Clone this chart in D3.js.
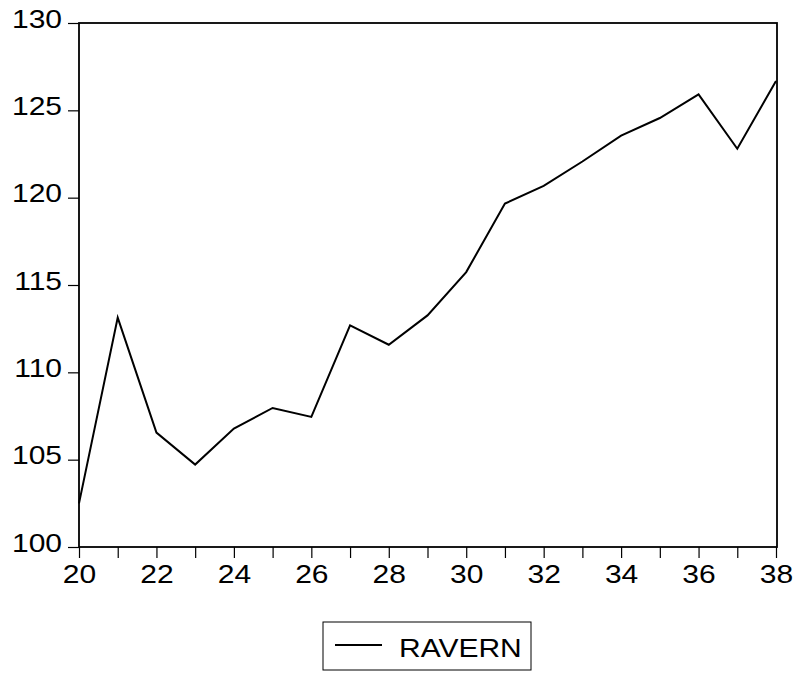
<!DOCTYPE html>
<html>
<head>
<meta charset="utf-8">
<script src="https://cdn.jsdelivr.net/npm/d3@7"></script>
<style>
	body { margin: 0; background: #fff; }
	text { font-family: "Liberation Sans", Arial, sans-serif; fill: #000; }
</style>
</head>
<body>
<div id="chart"></div>
<script>
// 数据
var years = [20, 21, 22, 23, 24, 25, 26, 27, 28, 29, 30, 31, 32, 33, 34, 35, 36, 37, 38];
var ravern = [102.5, 113.13, 106.55, 104.72, 106.78, 107.96, 107.45, 112.69, 111.58, 113.26,
	115.74, 119.66, 120.67, 122.07, 123.55, 124.56, 125.91, 122.8, 126.68];
var yTicks = [100, 105, 110, 115, 120, 125, 130];
var xLabels = [20, 22, 24, 26, 28, 30, 32, 34, 36, 38];
var seriesName = 'RAVERN';

var width = 795,
	height = 673;
var padding = {
	left: 79,
	top: 23,
	right: 18,
	bottom: 126
};
var fontSize = 25;
var stretch = 1.2; // 原图文字横向拉伸

var svg = d3.select('#chart').append('svg')
	.attr('width', width)
	.attr('height', height);

var xScale = d3.scaleLinear()
	.domain([20, 38])
	.range([padding.left, width - padding.right - 1]);
var yScale = d3.scaleLinear()
	.domain([100, 130])
	.range([height - padding.bottom, padding.top]);

// 边框
svg.append('rect')
	.attr('x', padding.left)
	.attr('y', padding.top)
	.attr('width', width - padding.right - padding.left)
	.attr('height', height - padding.bottom - padding.top)
	.attr('fill', 'none')
	.attr('stroke', '#000')
	.attr('stroke-width', 1.8);

// y 轴
var yAxis = svg.append('g')
	.attr('transform', 'translate(' + padding.left + ',0)')
	.call(d3.axisLeft(yScale).tickValues(yTicks).tickSize(11));
yAxis.select('.domain').remove();
yAxis.selectAll('line').attr('stroke', '#000').attr('stroke-width', 1.2);
yAxis.selectAll('text')
	.attr('x', -17 / stretch)
	.attr('y', -4)
	.attr('transform', 'scale(' + stretch + ',1)')
	.style('font-size', fontSize + 'px')
	.style('font-family', '"Liberation Sans", Arial, sans-serif');

// x 轴
var xAxis = svg.append('g')
	.attr('transform', 'translate(0,' + (height - padding.bottom) + ')')
	.call(d3.axisBottom(xScale).tickValues(years).tickSize(11).tickPadding(7)
		.tickFormat(d => xLabels.indexOf(d) == -1 ? '' : d));
xAxis.select('.domain').remove();
xAxis.selectAll('line').attr('stroke', '#000').attr('stroke-width', 1.2);
xAxis.selectAll('text')
	.attr('transform', 'scale(' + stretch + ',1)')
	.style('font-size', fontSize + 'px')
	.style('font-family', '"Liberation Sans", Arial, sans-serif');

// 折线
var line = d3.line()
	.x((d, i) => xScale(years[i]))
	.y(d => yScale(d));
svg.append('path')
	.datum(ravern)
	.attr('d', line)
	.attr('fill', 'none')
	.attr('stroke', '#000')
	.attr('stroke-width', 2)
	.attr('stroke-linejoin', 'miter');

// 图例
var legend = svg.append('g')
	.attr('transform', 'translate(323,622)');
legend.append('rect')
	.attr('width', 208)
	.attr('height', 48)
	.attr('fill', '#fff')
	.attr('stroke', '#000')
	.attr('stroke-width', 1);
legend.append('line')
	.attr('x1', 12)
	.attr('x2', 59)
	.attr('y1', 23)
	.attr('y2', 23)
	.attr('stroke', '#000')
	.attr('stroke-width', 2);
legend.append('text')
	.attr('transform', 'translate(76,35) scale(' + stretch + ',1)')
	.style('font-size', fontSize + 'px')
	.text(seriesName);
</script>
</body>
</html>
